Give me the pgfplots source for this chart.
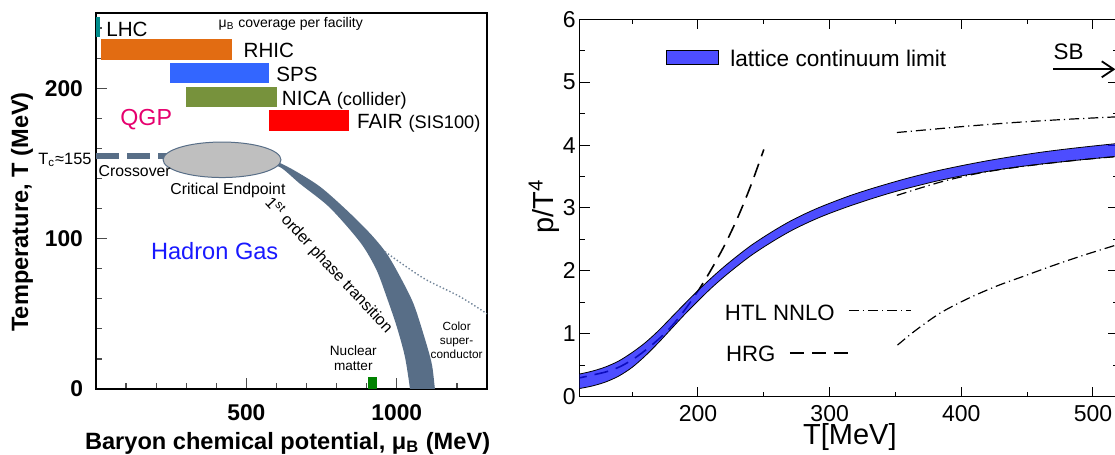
\documentclass[border=0pt]{standalone}
\usepackage{fontspec}
\setmainfont{Liberation Sans}
\usepackage{pgfplots}
\pgfplotsset{compat=1.18}
\usetikzlibrary{arrows.meta}

\definecolor{lhc}{RGB}{0,140,140}
\definecolor{rhic}{RGB}{226,108,18}
\definecolor{sps}{RGB}{51,102,255}
\definecolor{nica}{RGB}{119,146,60}
\definecolor{fair}{RGB}{255,0,0}
\definecolor{slate}{RGB}{88,110,135}
\definecolor{qgp}{RGB}{230,0,110}
\definecolor{hadron}{RGB}{25,25,255}
\definecolor{nucl}{RGB}{0,130,0}
\definecolor{band}{RGB}{18,18,255}

\newcommand{\fsz}[1]{\fontsize{#1}{1.15\dimexpr#1pt\relax}\selectfont}

\begin{document}
\begin{tikzpicture}
\useasboundingbox (0,0) rectangle (557.5pt,227.5pt);
\clip (0,0) rectangle (557.5pt,227.5pt);

% ---- left: QCD phase diagram
\begin{axis}[
  at={(48pt,33pt)}, anchor=south west,
  scale only axis, width=195.5pt, height=188pt,
  xmin=0, xmax=1300, ymin=0, ymax=250,
  clip mode=individual,
  axis line style={line width=1pt},
  tick pos=left, tick align=inside,
  xtick={500,1000}, ytick={0,100,200},
  minor xtick={100,200,...,1200}, minor ytick={20,40,...,240},
  major tick length=5.5pt, minor tick length=3pt,
  tick style={black!70, line width=0.6pt},
  ticklabel style={font=\bfseries\fsz{11.4}},
  /pgf/number format/assume math mode=true,
  /pgf/number format/1000 sep={},
  xticklabel style={yshift=-4.5pt},
  yticklabel style={xshift=-3pt},
  xlabel={Baryon chemical potential, μ\textsubscript{B} (MeV)},
  ylabel={Temperature, T (MeV)},
  label style={font=\bfseries\fsz{11.8}},
  xlabel style={at={(axis description cs:0.49,-0.1436)}, anchor=center},
  ylabel style={at={(axis description cs:-0.189,0.471)}, anchor=center},
]
% facility coverage bars
\addplot[fill=lhc, draw=none] coordinates {(0,234)(12,234)(12,247.3)(0,247.3)} -- cycle;
\addplot[fill=rhic, draw=none] coordinates {(16.6,218.8)(452,218.8)(452,232.7)(16.6,232.7)} -- cycle;
\addplot[fill=sps, draw=none] coordinates {(246,203.5)(575,203.5)(575,216.8)(246,216.8)} -- cycle;
\addplot[fill=nica, draw=none] coordinates {(298,187.3)(601,187.3)(601,200.6)(298,200.6)} -- cycle;
\addplot[fill=fair, draw=none] coordinates {(576,171.7)(841,171.7)(841,185.5)(576,185.5)} -- cycle;
% crossover
\addplot[slate, line width=3pt, dash pattern=on 11.7pt off 3.8pt] coordinates {(0,154.7)(260,154.7)};
% first order band
\addplot[fill=slate, draw=none, smooth, tension=0.5] coordinates {
  (560,153.5)(589,152.3)(656,145.7)(745,134.5)(833,119)(911,103.5)(966,90.2)
  (1011,74.7)(1055,57)(1088,37)(1116,17.1)(1127,0)(1135,-10)
  (1048,-10)(1044,0)(1027,21.5)(1000,41.4)(966,61.4)(933,79)(889,94.6)
  (833,108.5)(767,122.5)(678,136.5)(612,147.5)(560,149)} -- cycle;
% critical endpoint
\draw[slate, fill=black!25, line width=0.5pt] (axis cs:419,152.4) ellipse [x radius=196, y radius=11.8];
% colour superconductor boundary
\addplot[slate!85, line width=0.7pt, dash pattern=on 0.7pt off 1.1pt, smooth] coordinates {(961,91.3)(1030,81.5)(1099,72.5)(1210,61.4)(1300,50)};
% nuclear matter
\addplot[fill=nucl, draw=none] coordinates {(903,0)(933,0)(933,8.2)(903,8.2)} -- cycle;

\begin{scope}[every node/.style={inner sep=0pt}]
\node[anchor=base west, font=\fsz{10.3}] at (axis cs:33.2,234.7) {LHC};
\node[anchor=base west, font=\fsz{10.3}] at (axis cs:489.8,220.5) {RHIC};
\node[anchor=base west, font=\fsz{10.3}] at (axis cs:598.4,204.3) {SPS};
\node[anchor=base west, font=\fsz{10.3}] at (axis cs:617,188.8) {NICA {\fsz{9.1}(collider)}};
\node[anchor=base west, font=\fsz{10.3}] at (axis cs:866.6,172.9) {FAIR {\fsz{9.1}(SIS100)}};
\node[anchor=base west, font=\fsz{7}] at (axis cs:406.7,240.5) {μ\textsubscript{B} coverage per facility};
\node[anchor=base west, font=\fsz{11.6}, text=qgp] at (axis cs:79.8,174.9) {QGP};
\node[anchor=base west, font=\fsz{11.8}, text=hadron] at (axis cs:181.8,85.8) {Hadron Gas};
\node[anchor=base west, font=\fsz{7.9}] at (axis cs:7.7,141.6) {Crossover};
\node[anchor=base west, font=\fsz{7.9}] at (axis cs:246,129) {Critical Endpoint};
\node[anchor=base east, font=\fsz{8.2}] at (axis cs:-13.3,149) {T\textsubscript{c}≈155};
\node[anchor=center, font=\fsz{8}, rotate=-47] at (axis cs:774.6,82.4) {1\textsuperscript{st} order phase transition};
\node[anchor=base, font=\fsz{6.8}] at (axis cs:855.5,22.6) {Nuclear};
\node[anchor=base, font=\fsz{6.8}] at (axis cs:855.5,12.2) {matter};
\node[anchor=base, font=\fsz{5.9}] at (axis cs:1199,38.6) {Color};
\node[anchor=base, font=\fsz{5.9}] at (axis cs:1199,29.3) {super-};
\node[anchor=base, font=\fsz{5.9}] at (axis cs:1199,20.4) {conductor};
\end{scope}
\end{axis}

% ---- right: lattice pressure
\begin{axis}[
  at={(289.75pt,29.15pt)}, anchor=south west,
  scale only axis, width=269.25pt, height=188.7pt,
  xmin=110, xmax=519, ymin=0, ymax=6,
  clip mode=individual,
  axis line style={line width=0.5pt},
  tick align=inside,
  xtick={200,300,400,500}, minor xtick={150,250,350,450},
  ytick={0,1,...,6}, minor ytick={0.5,1.5,...,5.5},
  major tick length=5pt, minor tick length=2.5pt,
  tick style={black, line width=0.5pt},
  ticklabel style={font=\fsz{11.5}},
  /pgf/number format/assume math mode=true,
  xticklabel style={yshift=-0.8pt},
  yticklabel style={xshift=1.6pt},
  xlabel={T[MeV]}, ylabel={p/T\textsuperscript{4}},
  label style={font=\fsz{14.5}},
  xlabel style={at={(axis description cs:0.502,-0.107)}, anchor=center},
  ylabel style={at={(axis description cs:-0.066,0.505)}, anchor=center},
]
% HRG
\addplot[black, line width=0.8pt, dash pattern=on 7pt off 4pt, smooth] coordinates {
  (105,0.29)(110,0.30)(120,0.345)(131,0.40)(141,0.48)(151,0.60)(162,0.77)(174,0.99)
  (182,1.17)(190,1.38)(200,1.68)(210,2.02)(220,2.40)(230,2.84)(240,3.35)(250,3.93)};
% lattice continuum limit band
\addplot[fill=band, fill opacity=0.75, draw=black, line width=0.4pt, smooth, tension=0.5] coordinates {
  (100,0.32)(110,0.36)(120,0.408)(130,0.475)(140,0.57)(150,0.703)(160,0.86)(170,1.05)
  (180,1.265)(190,1.48)(200,1.688)(210,1.885)(220,2.07)(230,2.24)(240,2.40)(250,2.54)
  (260,2.67)(270,2.79)(280,2.895)(290,2.99)(300,3.075)(315,3.193)(330,3.296)(345,3.39)
  (360,3.478)(380,3.583)(400,3.672)(420,3.752)(440,3.822)(460,3.885)(480,3.938)(500,3.985)
  (520,4.028)(540,4.065)
  (540,3.855)(520,3.822)(500,3.785)(480,3.742)(460,3.697)(440,3.645)(420,3.582)(400,3.51)
  (380,3.422)(360,3.318)(345,3.232)(330,3.135)(315,3.03)(300,2.915)(290,2.83)(280,2.735)
  (270,2.63)(260,2.51)(250,2.38)(240,2.24)(230,2.08)(220,1.91)(210,1.725)(200,1.522)
  (190,1.31)(180,1.085)(170,0.86)(160,0.65)(150,0.467)(140,0.33)(130,0.235)(120,0.172)
  (110,0.13)(100,0.10)} -- cycle;
% HTL NNLO
\addplot[black, line width=0.6pt, dash pattern=on 5pt off 2pt on 0.6pt off 2pt, smooth] coordinates {
  (351,4.20)(380,4.255)(404,4.30)(441,4.36)(480,4.41)(519,4.45)};
\addplot[black, line width=0.6pt, dash pattern=on 5pt off 2pt on 0.6pt off 2pt, smooth] coordinates {
  (351,3.20)(370,3.325)(390,3.445)(415,3.56)(441,3.645)(466,3.71)(490,3.765)(519,3.82)};
\addplot[black, line width=0.6pt, dash pattern=on 5pt off 2pt on 0.6pt off 2pt, smooth] coordinates {
  (351.5,0.82)(365,1.05)(384,1.33)(405,1.56)(427,1.76)(448,1.92)(469,2.08)(493,2.25)(519,2.42)};
% key
\addplot[fill=band, fill opacity=0.75, draw=black, line width=0.4pt] coordinates {(175.7,5.28)(215.4,5.28)(215.4,5.50)(175.7,5.50)} -- cycle;
\addplot[black, line width=0.6pt, dash pattern=on 5pt off 2pt on 0.6pt off 2pt] coordinates {(314.6,1.367)(361.4,1.367)};
\addplot[black, line width=0.8pt, dash pattern=on 7pt off 4pt] coordinates {(269.8,0.69)(315.4,0.69)};
\draw[-{Straight Barb[length=6pt,width=8pt]}, line width=0.9pt] (axis cs:469.8,5.205) -- (axis cs:517,5.205);

\begin{scope}[every node/.style={inner sep=0pt}]
\node[anchor=base west, font=\fsz{11.3}] at (axis cs:224.2,5.246) {lattice continuum limit};
\node[anchor=base west, font=\fsz{11.2}] at (axis cs:469.8,5.364) {SB};
\node[anchor=base west, font=\fsz{11.1}] at (axis cs:220.2,1.219) {HTL NNLO};
\node[anchor=base west, font=\fsz{11.1}] at (axis cs:221,0.556) {HRG};
\end{scope}
\end{axis}
\end{tikzpicture}
\end{document}
